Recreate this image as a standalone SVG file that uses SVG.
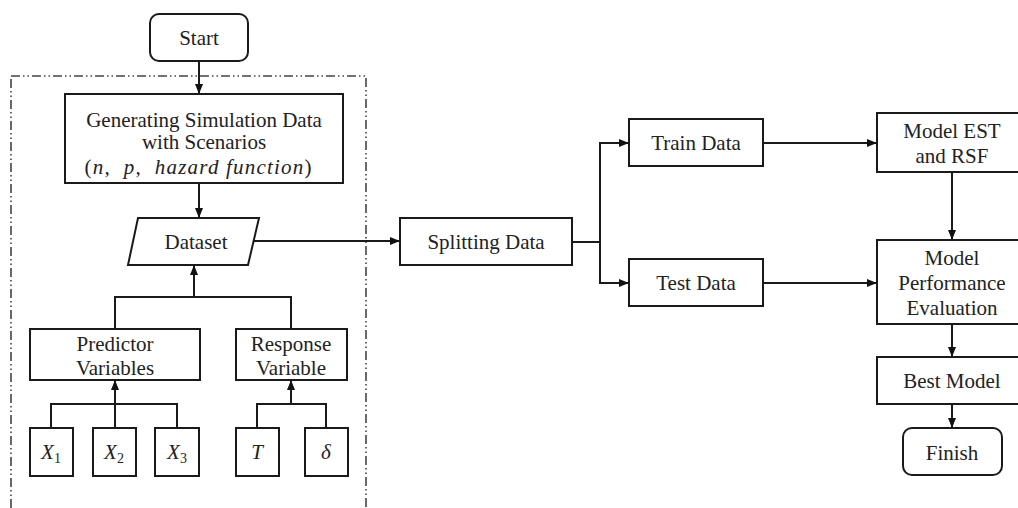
<svg xmlns="http://www.w3.org/2000/svg" width="1018" height="508" viewBox="0 0 1018 508">
<defs>
<marker id="ah" markerUnits="userSpaceOnUse" markerWidth="10" markerHeight="10" viewBox="0 0 10 10" refX="10" refY="5" orient="auto">
<path d="M0,1 L10,5 L0,9 Z" fill="#111"/>
</marker>
<style>
.box{fill:#fff;stroke:#1a1a1a;stroke-width:2}
.ln{fill:none;stroke:#1a1a1a;stroke-width:2}
.arr{fill:none;stroke:#1a1a1a;stroke-width:2;marker-end:url(#ah)}
.t{font-family:"Liberation Serif","Times New Roman",serif;font-size:21px;fill:#222;text-anchor:middle}
.m{font-family:"Liberation Serif","Times New Roman",serif;font-style:italic;font-size:21px;fill:#222;text-anchor:middle}
.sub{font-style:normal;font-size:14px}
.frame{fill:none;stroke:#444;stroke-width:1.6;stroke-dasharray:9 3 1.5 3 1.5 3}
</style>
</defs>
<rect class="frame" x="11" y="76" width="355" height="470"/>
<g id="connectors">
<line class="arr" x1="199" y1="61" x2="199" y2="94"/>
<line class="arr" x1="199" y1="183" x2="199" y2="218"/>
<line class="arr" x1="254" y1="241" x2="400" y2="241"/>
<polyline class="ln" points="115,329 115,297 291,297 291,329"/>
<line class="arr" x1="194" y1="297" x2="194" y2="265"/>
<polyline class="ln" points="51,428 51,404 177,404 177,428"/>
<line class="arr" x1="115" y1="428" x2="115" y2="380"/>
<polyline class="ln" points="257,428 257,404 326,404 326,428"/>
<line class="arr" x1="291" y1="404" x2="291" y2="380"/>
<line class="ln" x1="572" y1="242" x2="600" y2="242"/>
<polyline class="arr" points="600,242 600,143 629,143"/>
<polyline class="arr" points="600,242 600,283 629,283"/>
<line class="arr" x1="763" y1="143" x2="877" y2="143"/>
<line class="arr" x1="763" y1="283" x2="877" y2="283"/>
<line class="arr" x1="952" y1="172" x2="952" y2="240"/>
<line class="arr" x1="952" y1="324" x2="952" y2="357"/>
<line class="arr" x1="952" y1="404" x2="952" y2="428"/>
</g>
<g id="start"><rect class="box" x="150" y="14" width="98" height="47" rx="9"/><text class="t" x="199" y="45">Start</text></g>
<g id="generating"><rect class="box" x="65" y="94" width="278" height="89"/>
<text class="t" x="204" y="127">Generating Simulation Data</text>
<text class="t" x="204" y="149">with Scenarios</text>
<text class="t" x="198" y="174" textLength="227" lengthAdjust="spacing" xml:space="preserve">(<tspan font-style="italic">n,  p,  hazard function</tspan>)</text>
</g>
<g id="dataset"><polygon class="box" points="138,218 259,218 248,265 128,265"/><text class="t" x="196" y="249">Dataset</text></g>
<g id="predictor"><rect class="box" x="30" y="329" width="170" height="51"/><text class="t" x="115" y="351">Predictor</text><text class="t" x="115" y="375">Variables</text></g>
<g id="response"><rect class="box" x="236" y="329" width="111" height="51"/><text class="t" x="291" y="351">Response</text><text class="t" x="291" y="375">Variable</text></g>
<g id="x1"><rect class="box" x="30" y="428" width="43" height="48"/><text class="m" x="51" y="459">X<tspan class="sub" dy="4">1</tspan></text></g>
<g id="x2"><rect class="box" x="93" y="428" width="43" height="48"/><text class="m" x="114" y="459">X<tspan class="sub" dy="4">2</tspan></text></g>
<g id="x3"><rect class="box" x="155" y="428" width="44" height="48"/><text class="m" x="177" y="459">X<tspan class="sub" dy="4">3</tspan></text></g>
<g id="T"><rect class="box" x="236" y="428" width="43" height="48"/><text class="m" x="257" y="459">T</text></g>
<g id="delta"><rect class="box" x="305" y="428" width="43" height="48"/><text class="m" x="326" y="459">δ</text></g>
<g id="splitting"><rect class="box" x="400" y="218" width="172" height="47"/><text class="t" x="486" y="249">Splitting Data</text></g>
<g id="train"><rect class="box" x="629" y="119" width="134" height="47"/><text class="t" x="696" y="150">Train Data</text></g>
<g id="test"><rect class="box" x="629" y="259" width="134" height="47"/><text class="t" x="696" y="290">Test Data</text></g>
<g id="model"><rect class="box" x="877" y="113" width="150" height="59"/><text class="t" x="952" y="138">Model EST</text><text class="t" x="952" y="163">and RSF</text></g>
<g id="perf"><rect class="box" x="877" y="240" width="150" height="84"/><text class="t" x="952" y="265">Model</text><text class="t" x="952" y="290">Performance</text><text class="t" x="952" y="315">Evaluation</text></g>
<g id="best"><rect class="box" x="877" y="357" width="150" height="47"/><text class="t" x="952" y="388">Best Model</text></g>
<g id="finish"><rect class="box" x="903" y="428" width="99" height="47" rx="9"/><text class="t" x="952" y="460">Finish</text></g>
</svg>
